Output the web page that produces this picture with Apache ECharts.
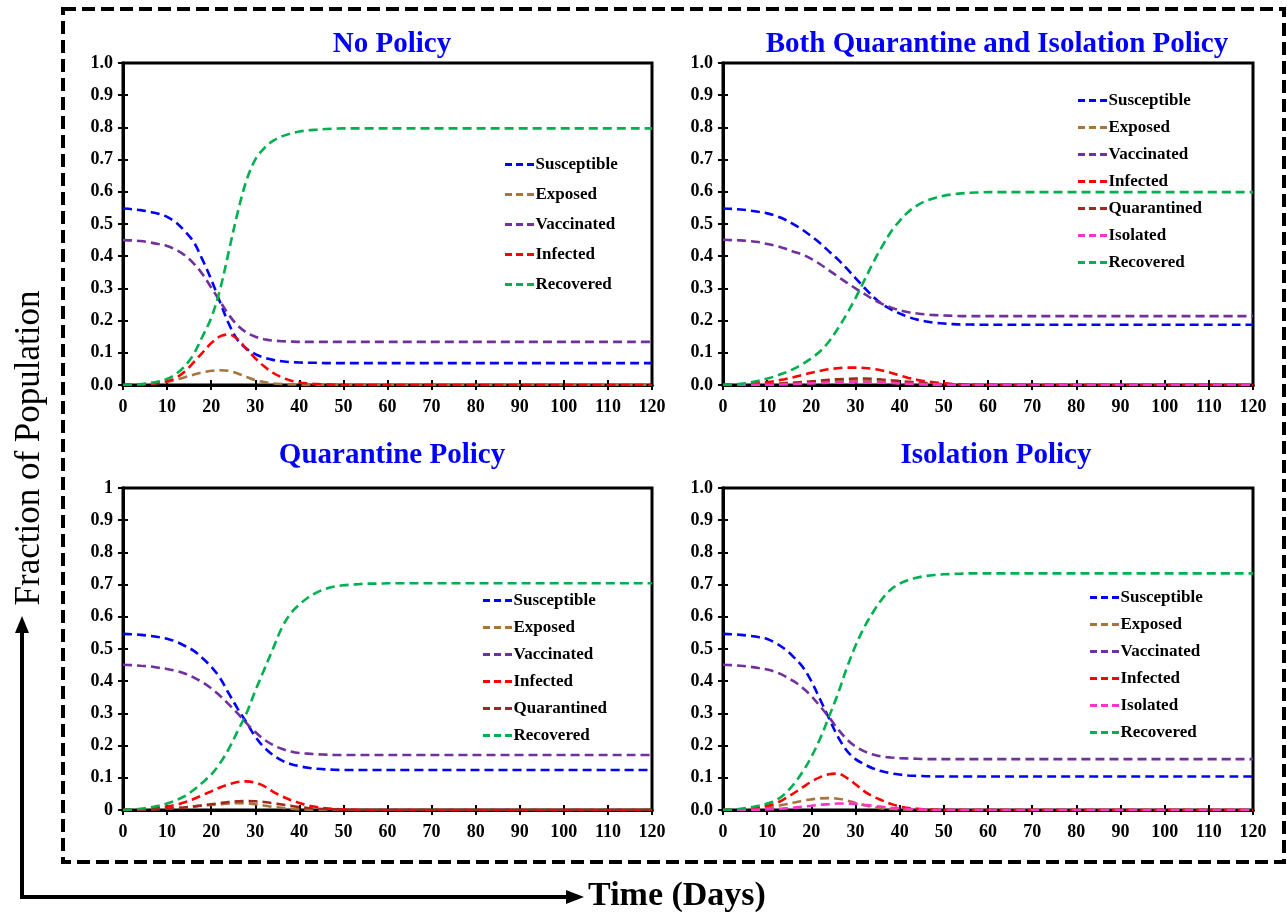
<!DOCTYPE html>
<html>
<head>
<meta charset="utf-8">
<script src="https://cdn.jsdelivr.net/npm/echarts@6/dist/echarts.min.js"></script>
<style>
  html, body { margin: 0; padding: 0; background: #ffffff; }
  #chart { width: 1287px; height: 915px; }
</style>
</head>
<body>
<div id="chart"></div>
<script>
// Time grid (days) shared by every compartment curve
const days = [0,2,4,6,8,10,12,14,16,18,20,22,24,26,28,30,32,34,36,38,40,42,44,46,48,50,52,54,56,58,60,120];

// Tick labels
const xTickLabels = ['0','10','20','30','40','50','60','70','80','90','100','110','120'];
const yTickLabelsDecimal = ['0.0','0.1','0.2','0.3','0.4','0.5','0.6','0.7','0.8','0.9','1.0'];
const yTickLabelsPlain = ['0','0.1','0.2','0.3','0.4','0.5','0.6','0.7','0.8','0.9','1'];

// No Policy
const noPolicySusceptible = [0.548,0.546,0.543,0.538,0.532,0.522,0.505,0.478,0.445,0.39,0.328,0.258,0.19,0.14,0.113,0.096,0.085,0.078,0.074,0.071,0.07,0.069,0.069,0.068,0.068,0.068,0.068,0.068,0.068,0.068,0.068,0.068];
const noPolicyExposed = [0,0.001,0.002,0.004,0.006,0.01,0.016,0.024,0.032,0.039,0.044,0.046,0.044,0.036,0.025,0.015,0.009,0.005,0.003,0.002,0.001,0,0,0,0,0,0,0,0,0,0,0];
const noPolicyVaccinated = [0.45,0.449,0.447,0.443,0.438,0.432,0.42,0.403,0.378,0.345,0.303,0.26,0.218,0.185,0.163,0.15,0.142,0.138,0.136,0.135,0.134,0.134,0.134,0.134,0.134,0.134,0.134,0.134,0.134,0.134,0.134,0.134];
const noPolicyInfected = [0,0.001,0.002,0.004,0.007,0.012,0.022,0.042,0.07,0.1,0.13,0.151,0.157,0.142,0.112,0.083,0.058,0.038,0.024,0.014,0.008,0.005,0.003,0.002,0.001,0,0,0,0,0,0,0];
const noPolicyRecovered = [0,0.001,0.003,0.006,0.011,0.019,0.034,0.058,0.095,0.15,0.208,0.296,0.415,0.535,0.635,0.7,0.735,0.758,0.772,0.781,0.787,0.791,0.793,0.795,0.796,0.797,0.797,0.797,0.797,0.797,0.797,0.797];

// Both Quarantine and Isolation Policy
const bothSusceptible = [0.548,0.547,0.545,0.542,0.538,0.533,0.525,0.514,0.499,0.482,0.462,0.44,0.415,0.39,0.362,0.332,0.302,0.274,0.251,0.235,0.222,0.211,0.203,0.197,0.193,0.191,0.189,0.188,0.188,0.187,0.187,0.187];
const bothExposed = [0,0,0.001,0.001,0.002,0.003,0.004,0.006,0.007,0.009,0.011,0.012,0.013,0.014,0.015,0.015,0.014,0.012,0.01,0.008,0.006,0.005,0.003,0.002,0.001,0.001,0,0,0,0,0,0];
const bothVaccinated = [0.451,0.45,0.449,0.447,0.444,0.438,0.432,0.424,0.414,0.405,0.392,0.375,0.356,0.337,0.318,0.3,0.283,0.266,0.252,0.241,0.232,0.226,0.222,0.219,0.217,0.216,0.215,0.214,0.214,0.214,0.214,0.214];
const bothInfected = [0,0.001,0.002,0.004,0.006,0.009,0.013,0.018,0.024,0.031,0.038,0.044,0.049,0.052,0.054,0.054,0.053,0.05,0.045,0.038,0.03,0.022,0.016,0.011,0.008,0.005,0.003,0.002,0.001,0,0,0];
const bothQuarantined = [0,0,0.001,0.001,0.002,0.002,0.003,0.005,0.007,0.009,0.011,0.014,0.016,0.018,0.019,0.02,0.02,0.019,0.017,0.015,0.012,0.01,0.008,0.006,0.004,0.003,0.002,0.001,0.001,0,0,0];
const bothIsolated = [0,0,0,0,0.001,0.001,0.001,0.002,0.003,0.004,0.005,0.006,0.007,0.008,0.009,0.009,0.009,0.008,0.007,0.006,0.005,0.004,0.003,0.002,0.002,0.001,0.001,0,0,0,0,0];
const bothRecovered = [0,0.002,0.004,0.008,0.013,0.02,0.028,0.038,0.05,0.065,0.083,0.105,0.135,0.175,0.22,0.27,0.325,0.38,0.43,0.475,0.51,0.538,0.558,0.572,0.581,0.588,0.592,0.595,0.597,0.598,0.599,0.599];

// Quarantine Policy
const quarantineSusceptible = [0.547,0.546,0.544,0.541,0.537,0.532,0.523,0.51,0.495,0.472,0.445,0.41,0.362,0.315,0.272,0.228,0.195,0.171,0.154,0.143,0.136,0.131,0.128,0.126,0.125,0.124,0.124,0.124,0.124,0.124,0.124,0.124];
const quarantineExposed = [0,0.001,0.001,0.002,0.003,0.004,0.006,0.008,0.011,0.014,0.016,0.018,0.02,0.021,0.021,0.018,0.014,0.01,0.007,0.004,0.002,0.001,0,0,0,0,0,0,0,0,0,0];
const quarantineVaccinated = [0.451,0.45,0.448,0.446,0.442,0.438,0.432,0.424,0.412,0.397,0.378,0.355,0.328,0.3,0.27,0.242,0.219,0.202,0.19,0.182,0.177,0.175,0.173,0.172,0.171,0.171,0.171,0.171,0.171,0.171,0.171,0.171];
const quarantineInfected = [0,0.001,0.002,0.004,0.007,0.011,0.016,0.024,0.034,0.046,0.058,0.07,0.08,0.087,0.089,0.085,0.074,0.057,0.043,0.031,0.022,0.014,0.009,0.005,0.003,0.002,0.001,0,0,0,0,0];
const quarantineQuarantined = [0,0,0.001,0.002,0.003,0.004,0.006,0.008,0.011,0.014,0.018,0.021,0.025,0.027,0.028,0.027,0.025,0.021,0.017,0.013,0.009,0.006,0.004,0.003,0.002,0.001,0,0,0,0,0,0];
const quarantineRecovered = [0,0.002,0.004,0.008,0.013,0.02,0.03,0.043,0.062,0.085,0.11,0.145,0.19,0.245,0.3,0.37,0.435,0.5,0.565,0.61,0.638,0.66,0.676,0.687,0.694,0.698,0.7,0.702,0.703,0.703,0.704,0.704];

// Isolation Policy
const isolationSusceptible = [0.547,0.546,0.544,0.541,0.537,0.531,0.518,0.5,0.475,0.445,0.4,0.343,0.285,0.228,0.185,0.158,0.142,0.129,0.12,0.114,0.11,0.107,0.106,0.105,0.104,0.104,0.104,0.104,0.104,0.104,0.104,0.104];
const isolationExposed = [0,0.001,0.002,0.003,0.005,0.008,0.012,0.017,0.023,0.029,0.033,0.036,0.037,0.035,0.03,0.022,0.015,0.009,0.005,0.003,0.002,0.001,0,0,0,0,0,0,0,0,0,0];
const isolationVaccinated = [0.451,0.45,0.448,0.445,0.441,0.436,0.428,0.416,0.4,0.38,0.354,0.322,0.288,0.252,0.22,0.197,0.182,0.172,0.166,0.163,0.161,0.16,0.159,0.158,0.158,0.158,0.158,0.158,0.158,0.158,0.158,0.158];
const isolationInfected = [0,0.001,0.002,0.005,0.008,0.013,0.021,0.035,0.052,0.07,0.088,0.102,0.111,0.113,0.1,0.08,0.058,0.042,0.03,0.019,0.011,0.006,0.004,0.002,0.001,0,0,0,0,0,0,0];
const isolationIsolated = [0,0,0,0.001,0.001,0.002,0.003,0.005,0.007,0.01,0.013,0.016,0.018,0.02,0.02,0.019,0.016,0.013,0.01,0.007,0.005,0.003,0.002,0.001,0,0,0,0,0,0,0,0];
const isolationRecovered = [0,0.002,0.004,0.008,0.013,0.02,0.03,0.05,0.08,0.118,0.165,0.222,0.29,0.36,0.44,0.51,0.568,0.615,0.655,0.685,0.703,0.714,0.722,0.727,0.73,0.732,0.733,0.734,0.735,0.735,0.735,0.735];

const FONT = '"Liberation Serif", "DejaVu Serif", serif';
const COLORS = {
  Susceptible: '#0000FF',
  Exposed: '#A8743E',
  Vaccinated: '#7030A0',
  Infected: '#FF0000',
  Quarantined: '#A0281E',
  Isolated: '#FF33CC',
  Recovered: '#00B050'
};
// legend key: three short dashes, like the plotted lines
const DASH_ICON = 'path://M0,0h7v3h-7z M11,0h7v3h-7z M22,0h7v3h-7z';

const panels = [
  {
    title: 'No Policy', titleX: 387, titleY: 25,
    grid: { left: 123, top: 63, width: 529, height: 322 },
    yLabels: yTickLabelsDecimal,
    legend: { left: 505, top: 156, gap: 13 },
    series: [['Susceptible', noPolicySusceptible], ['Exposed', noPolicyExposed], ['Vaccinated', noPolicyVaccinated],
             ['Infected', noPolicyInfected], ['Recovered', noPolicyRecovered]]
  },
  {
    title: 'Both Quarantine and Isolation Policy', titleX: 992, titleY: 25,
    grid: { left: 723, top: 63, width: 530, height: 322 },
    yLabels: yTickLabelsDecimal,
    legend: { left: 1078, top: 92, gap: 10 },
    series: [['Susceptible', bothSusceptible], ['Exposed', bothExposed], ['Vaccinated', bothVaccinated],
             ['Infected', bothInfected], ['Quarantined', bothQuarantined], ['Isolated', bothIsolated],
             ['Recovered', bothRecovered]]
  },
  {
    title: 'Quarantine Policy', titleX: 387, titleY: 436,
    grid: { left: 123, top: 488, width: 529, height: 322 },
    yLabels: yTickLabelsPlain,
    legend: { left: 483, top: 592, gap: 10 },
    series: [['Susceptible', quarantineSusceptible], ['Exposed', quarantineExposed], ['Vaccinated', quarantineVaccinated],
             ['Infected', quarantineInfected], ['Quarantined', quarantineQuarantined], ['Recovered', quarantineRecovered]]
  },
  {
    title: 'Isolation Policy', titleX: 991, titleY: 436,
    grid: { left: 723, top: 488, width: 530, height: 322 },
    yLabels: yTickLabelsDecimal,
    legend: { left: 1090, top: 589, gap: 10 },
    series: [['Susceptible', isolationSusceptible], ['Exposed', isolationExposed], ['Vaccinated', isolationVaccinated],
             ['Infected', isolationInfected], ['Isolated', isolationIsolated], ['Recovered', isolationRecovered]]
  }
];

const labelStyle = { color: '#000', fontFamily: FONT, fontWeight: 'bold', fontSize: 18 };
const tickLine = { color: '#000', width: 2 };

const option = {
  animation: false,
  backgroundColor: '#ffffff',
  title: [], grid: [], xAxis: [], yAxis: [], legend: [], series: [], graphic: []
};

panels.forEach((p, i) => {
  option.title.push({
    text: p.title, left: p.titleX, top: p.titleY, textAlign: 'center',
    textStyle: { color: '#0000FF', fontFamily: FONT, fontWeight: 'bold', fontSize: 29 }
  });
  option.grid.push(Object.assign({ show: true, borderColor: '#000', borderWidth: 3, containLabel: false }, p.grid));

  const xBase = {
    type: 'value', gridIndex: i, min: 0, max: 120, interval: 10, position: 'bottom',
    splitLine: { show: false },
    axisLine: { show: true, onZero: false, lineStyle: { color: '#000', width: 3 } }
  };
  // outward ticks with labels, then a twin axis carrying the inward half of each tick
  option.xAxis.push(Object.assign({}, xBase, {
    axisTick: { show: true, length: 5, lineStyle: tickLine },
    axisLabel: Object.assign({ margin: 13, formatter: v => xTickLabels[Math.round(v / 10)] }, labelStyle)
  }));
  option.xAxis.push(Object.assign({}, xBase, {
    axisTick: { show: true, inside: true, length: 5, lineStyle: tickLine },
    axisLabel: { show: false }
  }));

  const yBase = {
    type: 'value', gridIndex: i, min: 0, max: 1, interval: 0.1, position: 'left',
    splitLine: { show: false },
    axisLine: { show: true, onZero: false, lineStyle: { color: '#000', width: 3 } }
  };
  const yl = p.yLabels;
  option.yAxis.push(Object.assign({}, yBase, {
    axisTick: { show: true, length: 5, lineStyle: tickLine },
    axisLabel: Object.assign({ margin: 10, formatter: v => yl[Math.round(v * 10)] }, labelStyle)
  }));
  option.yAxis.push(Object.assign({}, yBase, {
    axisTick: { show: true, inside: true, length: 5, lineStyle: tickLine },
    axisLabel: { show: false }
  }));

  option.legend.push({
    data: p.series.map(s => ({ name: s[0], icon: DASH_ICON })),
    orient: 'vertical', left: p.legend.left, top: p.legend.top, padding: 0,
    itemWidth: 30, itemHeight: 3, itemGap: p.legend.gap,
    selectedMode: false,
    textStyle: { color: '#000', fontFamily: FONT, fontWeight: 'bold', fontSize: 17, padding: [0, 0, 0, -4] }
  });

  p.series.forEach(([name, values]) => {
    option.series.push({
      type: 'line', name: name,
      xAxisIndex: 2 * i, yAxisIndex: 2 * i,
      data: days.map((d, k) => [d, values[k]]),
      smooth: 0.35, symbol: 'none',
      lineStyle: { color: COLORS[name], width: 2.6, type: [9, 5] },
      itemStyle: { color: COLORS[name] }
    });
  });
});

// Frame, shared axis titles and their arrows
option.graphic = [
  { type: 'rect', shape: { x: 63, y: 9, width: 1221, height: 853 },
    style: { fill: 'none', stroke: '#000', lineWidth: 4, lineDash: [13, 6] }, z: 10 },
  { type: 'polyline', shape: { points: [[22, 628], [22, 897], [572, 897]] },
    style: { fill: 'none', stroke: '#000', lineWidth: 4 } },
  { type: 'polygon', shape: { points: [[22, 616], [15, 633], [29, 633]] }, style: { fill: '#000' } },
  { type: 'polygon', shape: { points: [[584, 897], [566, 890], [566, 904]] }, style: { fill: '#000' } },
  { type: 'text', x: 30, y: 448, rotation: Math.PI / 2,
    style: { text: 'Fraction of Population', font: '35px "Liberation Serif", serif', fill: '#000',
             align: 'center', verticalAlign: 'middle' } },
  { type: 'text', x: 677, y: 896,
    style: { text: 'Time (Days)', font: 'bold 34px "Liberation Serif", serif', fill: '#000',
             align: 'center', verticalAlign: 'middle' } }
];

const chart = echarts.init(document.getElementById('chart'), null, { renderer: 'canvas' });
chart.setOption(option);
</script>
</body>
</html>
